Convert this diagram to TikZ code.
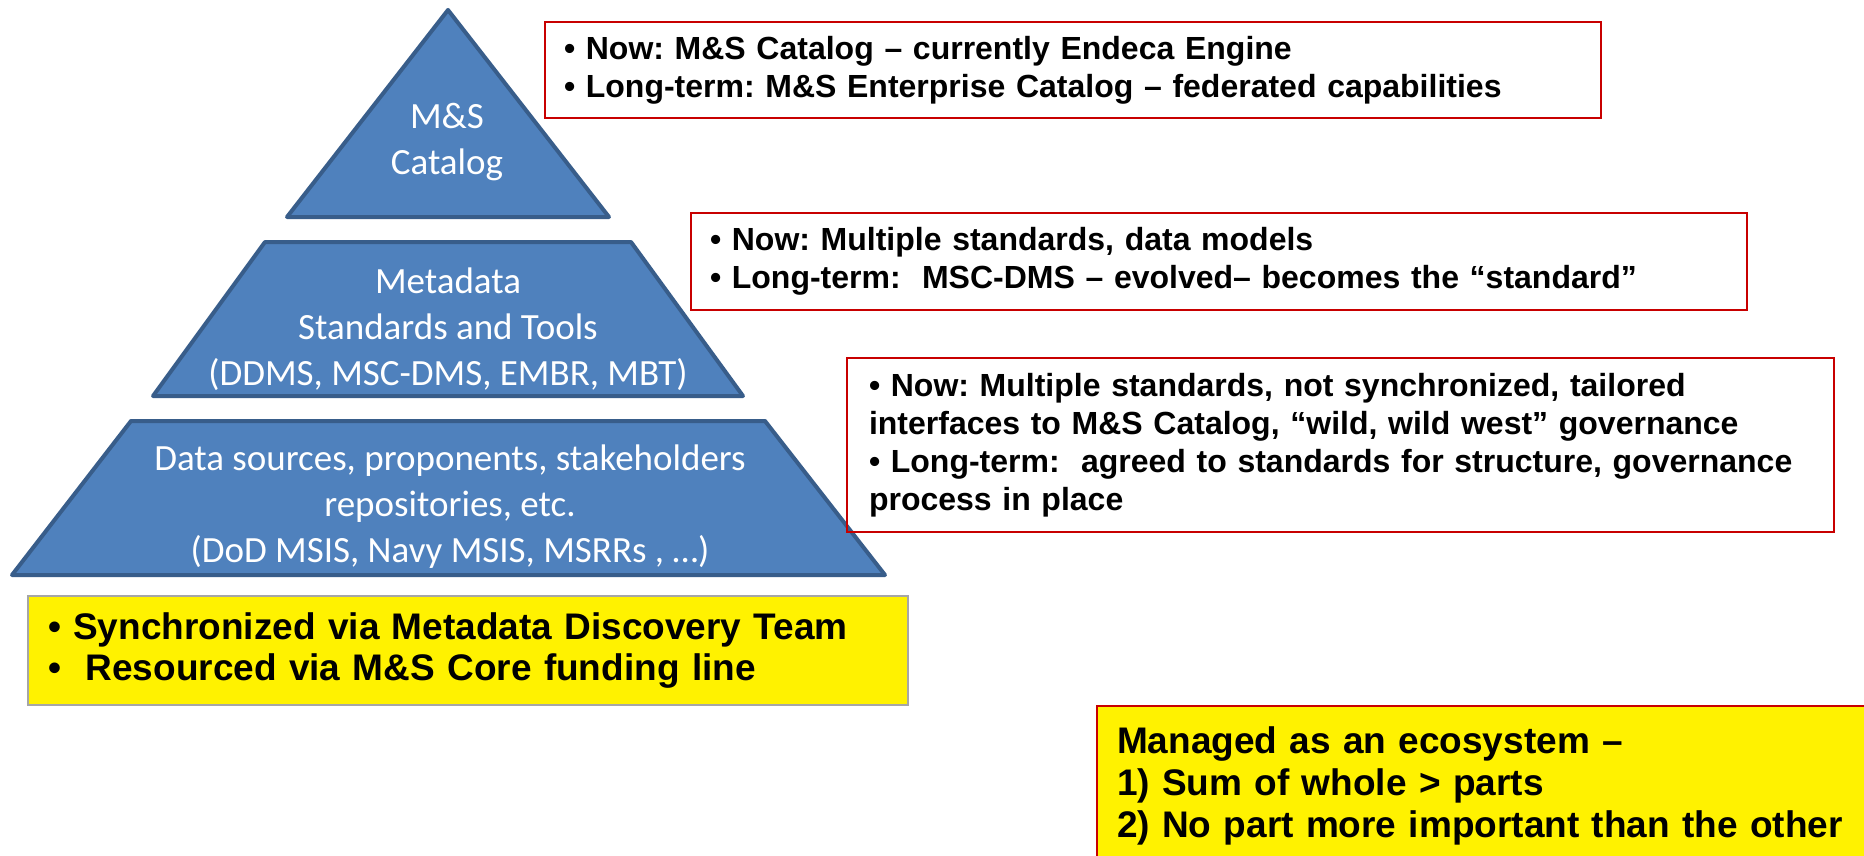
\documentclass[tikz,border=0pt]{standalone}
\usepackage{fontspec}
\setmainfont{Liberation Sans}
\newfontfamily\pyrfont{Carlito}
\frenchspacing

\definecolor{pyrblue}{HTML}{4F81BD}
\definecolor{pyredge}{HTML}{385D8A}
\definecolor{noteedge}{HTML}{C80000}
\definecolor{fundedge}{HTML}{A6A6A6}

\tikzset{
  layer/.style={fill=pyrblue, draw=pyredge, line width=2pt, line join=round},
  layertext/.style={text=white, align=center, font=\pyrfont\fontsize{18.5}{23}\selectfont},
  notebox/.style={draw=noteedge, line width=1.2pt, align=left, inner ysep=0pt,
    font=\bfseries\fontsize{16}{19}\selectfont},
  fundbox/.style={fill=yellow, line width=1.2pt, align=left, inner ysep=0pt, inner xsep=10pt}
}

\begin{document}
\begin{tikzpicture}[x=0.5pt, y=-0.5pt]
        \clip (0,0) rectangle (1864,856);
        \fill[white] (0,0) rectangle (1864,856);

        % pyramid
        \draw[layer] (448,10) -- (609,217) -- (287,217) -- cycle;
        \draw[layer] (265,242) -- (631,242) -- (743,396) -- (153,396) -- cycle;
        \draw[layer] (131,421) -- (765,421) -- (885,575) -- (12,575) -- cycle;

        \node[layertext] (catalog) at (447,142) {M\&S\\Catalog};
        \node[layertext] (metadata) at (448,329) {Metadata\\Standards and Tools\\(DDMS, MSC-DMS, EMBR, MBT)};
        \node[layertext] (sources) at (450,507) {Data sources, proponents, stakeholders\\repositories, etc.\\(DoD MSIS, Navy MSIS, MSRRs , …)};

        % notes
        \node[notebox, minimum width=528pt, minimum height=48pt, inner xsep=9.5pt, text width=509pt] (catnote) at (1073,70)
            {• Now: M\&S Catalog – currently Endeca Engine\\
             • Long-term: M\&S Enterprise Catalog – federated capabilities};
        \node[notebox, minimum width=528pt, minimum height=48.5pt, inner xsep=9.5pt, text width=509pt] (metanote) at (1219,261.5)
            {• Now: Multiple standards, data models\\
             • Long-term:\ \ MSC-DMS – evolved– becomes the “standard”};
        \node[notebox, minimum width=493.5pt, minimum height=87pt, inner xsep=11pt, text width=471.5pt] (sourcenote) at (1340.5,445)
            {• Now: Multiple standards, not synchronized, tailored\\
             interfaces to M\&S Catalog, “wild, wild west” governance\\
             • Long-term:\ \ agreed to standards for structure, governance\\
             process in place};

        % yellow boxes
        \node[fundbox, draw=fundedge, minimum width=440pt, minimum height=54.5pt, text width=420pt,
              font=\bfseries\fontsize{18.5}{20.5}\selectfont] (funding) at (468,650.5)
            {• Synchronized via Metadata Discovery Team\\
             •\ \ Resourced via M\&S Core funding line};
        \node[fundbox, draw=noteedge, minimum width=410pt, minimum height=80pt, text width=390pt,
              font=\bfseries\fontsize{18.5}{21}\selectfont] (ecosystem) at (1507,786)
            {Managed as an ecosystem –\\
             1) Sum of whole > parts\\
             2) No part more important than the other};
\end{tikzpicture}
\end{document}
